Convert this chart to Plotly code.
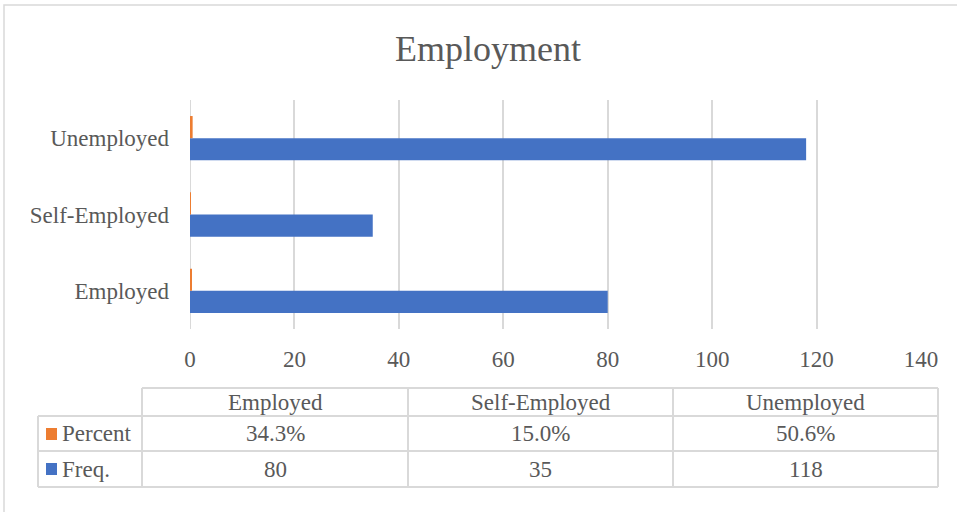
import plotly.graph_objects as go

# ---- data ----
categories = ["Employed", "Self-Employed", "Unemployed"]
freq = [80, 35, 118]
percent = [0.343, 0.150, 0.506]
percent_labels = ["34.3%", "15.0%", "50.6%"]
freq_labels = ["80", "35", "118"]
x_ticks = [0, 20, 40, 60, 80, 100, 120, 140]

W, H = 957, 512
PX0, PX1, PY0, PY1 = 190, 921, 100, 329  # plot area in pixels

def px(x):
    return (x - PX0) / (PX1 - PX0)

def py(y):
    return (PY1 - y) / (PY1 - PY0)

BLUE = "#4472C4"
ORANGE = "#ED7D31"
TXT = "#595959"
GRID = "#D9D9D9"
FONT = "Liberation Serif, Times New Roman, serif"

fig = go.Figure()
fig.add_trace(go.Bar(y=categories, x=freq, orientation="h", name="Freq.",
                     marker=dict(color=BLUE, line=dict(width=0))))
fig.add_trace(go.Bar(y=categories, x=percent, orientation="h", name="Percent",
                     marker=dict(color=ORANGE, line=dict(width=0))))

shapes = []
# outer chart border
shapes.append(dict(type="rect", xref="paper", yref="paper",
                   x0=px(4), x1=px(975), y0=py(5), y1=py(530),
                   line=dict(color=GRID, width=1.5), fillcolor="rgba(0,0,0,0)", layer="below"))

# table geometry
col_edges = [142, 408, 673, 938]
left_x = 38
row_top, row1, row2, row3 = 388, 416, 451, 487

def hline(x0, x1, y):
    shapes.append(dict(type="line", xref="paper", yref="paper",
                       x0=px(x0), x1=px(x1), y0=py(y), y1=py(y),
                       line=dict(color=GRID, width=2)))

def vline(x, y0, y1):
    shapes.append(dict(type="line", xref="paper", yref="paper",
                       x0=px(x), x1=px(x), y0=py(y0), y1=py(y1),
                       line=dict(color=GRID, width=2)))

hline(col_edges[0], col_edges[-1], row_top)
for y in (row1, row2, row3):
    hline(left_x, col_edges[-1], y)
vline(left_x, row1, row3)
for x in col_edges:
    vline(x, row_top, row3)

# legend keys in table
for (y0, y1, c) in [(428, 440, ORANGE), (463, 475, BLUE)]:
    shapes.append(dict(type="rect", xref="paper", yref="paper",
                       x0=px(46), x1=px(57), y0=py(y0), y1=py(y1),
                       line=dict(width=0), fillcolor=c))

annotations = []
def txt(x, y, s, anchor="center"):
    annotations.append(dict(xref="paper", yref="paper", x=px(x), y=py(y), text=s,
                            showarrow=False, xanchor=anchor, yanchor="middle",
                            font=dict(family=FONT, size=23, color=TXT)))

for i, cat in enumerate(categories):
    cx = (col_edges[i] + col_edges[i + 1]) / 2
    txt(cx, (row_top + row1) / 2, cat)
    txt(cx, (row1 + row2) / 2, percent_labels[i])
    txt(cx, (row2 + row3) / 2, freq_labels[i])
txt(60, (row1 + row2) / 2, "Percent", "left")
txt(60, (row2 + row3) / 2, "Freq.", "left")

fig.update_layout(
    width=W, height=H,
    margin=dict(l=PX0, r=W - PX1, t=PY0, b=H - PY1, pad=0),
    paper_bgcolor="white", plot_bgcolor="white",
    barmode="group", bargap=0.42, bargroupgap=0,
    showlegend=False,
    title=dict(text="Employment", x=488 / W, xanchor="center", y=1 - 48 / H, yanchor="middle",
               xref="container", yref="container",
               font=dict(family=FONT, size=36, color=TXT)),
    font=dict(family=FONT, size=23, color=TXT),
    xaxis=dict(range=[0, 140], tickvals=x_ticks, showgrid=True, gridcolor=GRID, gridwidth=2,
               zeroline=False, showline=False, ticks="", ticklabelstandoff=14,
               tickfont=dict(family=FONT, size=23, color=TXT)),
    yaxis=dict(categoryorder="array", categoryarray=categories, showgrid=False,
               zeroline=False, showline=False, ticks="", ticklabelstandoff=20,
               tickfont=dict(family=FONT, size=23, color=TXT)),
    shapes=shapes, annotations=annotations,
)
fig.add_vline(x=0, line=dict(color=GRID, width=2), layer="below")

fig.write_html("out.html")
